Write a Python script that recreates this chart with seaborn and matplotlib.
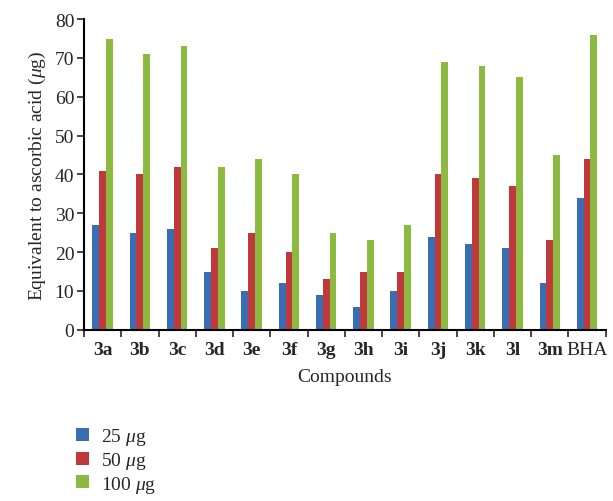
import pandas as pd
import numpy as np
import matplotlib.pyplot as plt
import seaborn as sns
from matplotlib.patches import Patch

# valori
compounds = ['3a', '3b', '3c', '3d', '3e', '3f', '3g', '3h', '3i', '3j', '3k', '3l', '3m', 'BHA']
dose_25 = [27, 25, 26, 15, 10, 12, 9, 6, 10, 24, 22, 21, 12, 34]
dose_50 = [41, 40, 42, 21, 25, 20, 13, 15, 15, 40, 39, 37, 23, 44]
dose_100 = [75, 71, 73, 42, 44, 40, 25, 23, 27, 69, 68, 65, 45, 76]
doses = ['25 $\\mu$g', '50 $\\mu$g', '100 $\\mu$g']
colors = ['#3a6eb4', '#c0393a', '#8cb93f']

df = pd.DataFrame({'Compound': compounds * 3,
                   'Dose': [doses[0]] * 14 + [doses[1]] * 14 + [doses[2]] * 14,
                   'Value': dose_25 + dose_50 + dose_100})

sns.set_style('white')
plt.rcParams['font.family'] = ['Liberation Serif', 'DejaVu Serif']
plt.rcParams['mathtext.fontset'] = 'custom'
plt.rcParams['mathtext.it'] = 'Liberation Serif:italic'
plt.rcParams['mathtext.rm'] = 'Liberation Serif'

fig = plt.figure(figsize=(6.13, 5.02), dpi=100)
ax = fig.add_axes([0.137, 0.341, 0.851, 0.619])
sns.barplot(data=df, x='Compound', y='Value', hue='Dose', palette=colors, saturation=1,
            width=0.55, edgecolor='none', legend=False, ax=ax)

ax.set_ylim(0, 80)
ax.set_xlim(-0.5, len(compounds) - 0.5)
ax.set_yticks(range(0, 81, 10))
ax.tick_params(axis='y', labelsize=14, length=5, width=1.2, direction='out', left=True, pad=2)
ax.set_xticks(range(len(compounds)))
ax.set_xticklabels(compounds, fontsize=14)
for lab in ax.get_xticklabels()[:-1]:
    lab.set_fontweight('bold')
ax.tick_params(axis='x', length=0, pad=8)
ax.set_xticks(np.arange(-0.5, len(compounds), 1), minor=True)
ax.tick_params(axis='x', which='minor', length=5, width=1.2, direction='out', bottom=True)

for s in ['top', 'right']:
    ax.spines[s].set_visible(False)
for s in ['left', 'bottom']:
    ax.spines[s].set_color('black')
    ax.spines[s].set_linewidth(1.5)

ax.set_xlabel('Compounds', fontsize=14, labelpad=7)
ax.set_ylabel('Equivalent to ascorbic acid ($\\mu$g)', fontsize=14, labelpad=5)

handles = [Patch(facecolor=c, edgecolor='none') for c in colors]
fig.legend(handles, doses, loc='upper left', bbox_to_anchor=(0.112, 0.165),
           frameon=False, fontsize=14, handlelength=0.65, handleheight=0.65,
           labelspacing=0.15, handletextpad=0.6, borderaxespad=0)

fig.savefig('out.png', dpi=100)
